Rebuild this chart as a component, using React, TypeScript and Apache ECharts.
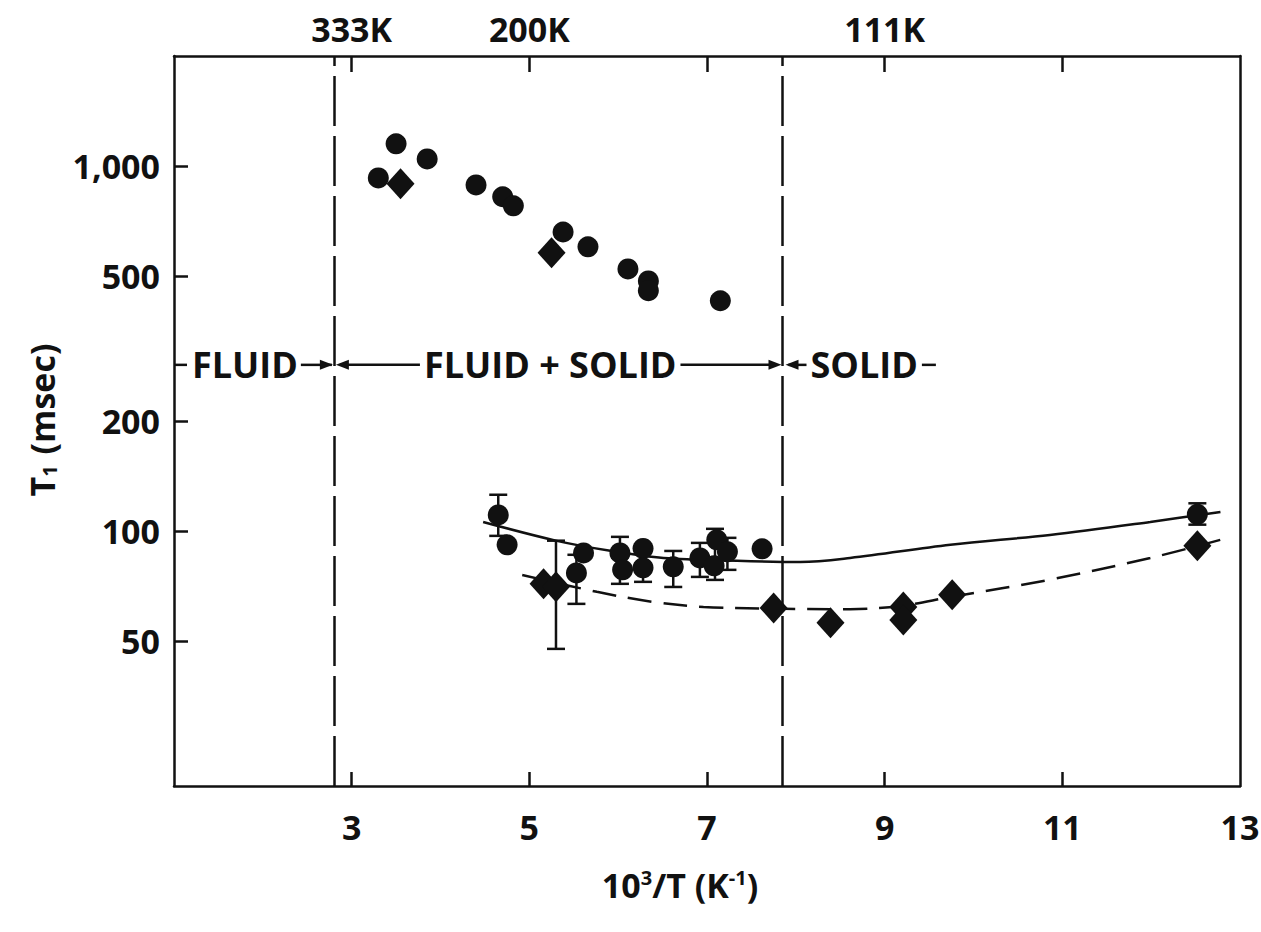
import React, { useEffect, useRef } from 'react';
import * as echarts from 'echarts';

// ---- data ----
const X_TICKS = [3, 5, 7, 9, 11];
const X_LABELS = [3, 5, 7, 9, 11, 13];
const TOP_TICKS = [3, 5, 7, 9, 11];
const TOP_LABEL_VALUES = [3, 5, 9];
const TOP_LABEL_TEXT = ['333K', '200K', '111K'];
const Y_TICKS = [50, 100, 200, 500, 1000];
const Y_LABEL_TEXT = ['50', '100', '200', '500', '1,000'];

const PHASE_BOUNDARIES = [2.8, 7.85];
const ANNOT_Y = 285;

const upperCircles = [
  [3.3, 927], [3.5, 1149], [3.85, 1045], [4.4, 887], [4.7, 823], [4.82, 777],
  [5.38, 659], [5.66, 600], [6.11, 522], [6.34, 484], [6.34, 455], [7.15, 427],
];
const upperDiamonds = [[3.55, 893], [5.25, 578]];

const lowerCircles = [
  [4.65, 110.6], [4.75, 91.6], [5.53, 76.7], [5.61, 87.0], [6.02, 87.0], [6.05, 78.2],
  [6.28, 89.5], [6.28, 79.2], [6.62, 79.7], [6.92, 84.3], [7.08, 80.2], [7.11, 94.5],
  [7.23, 87.6], [7.62, 89.3], [12.52, 111],
];
const lowerDiamonds = [
  [5.16, 71.6], [5.3, 70.3], [7.75, 61.5], [8.39, 56.0], [9.21, 61.9], [9.21, 57.0],
  [9.76, 66.8], [12.52, 91.0],
];

// [x, low, high]
const errorBars = [
  [4.65, 96.9, 125.6], [5.3, 47.5, 94], [5.53, 63.1, 86], [6.02, 71.6, 96.3],
  [6.28, 72.5, 90], [6.62, 70.2, 88.1], [6.92, 74.8, 92.7], [7.09, 73.4, 101.3],
  [7.23, 78.2, 95.7], [12.52, 104, 119],
];

const solidCurve = [
  [4.48, 105.8], [5.31, 93.9], [5.91, 88.2], [6.51, 84.3], [7.34, 82.8], [8.05, 82.2],
  [8.61, 84.3], [9.74, 91.6], [10.86, 97.5], [11.99, 105.8], [12.78, 112.7],
];
const dashedCurve = [
  [4.92, 75.7], [5.76, 68.1], [6.39, 63.9], [6.96, 61.9], [7.6, 61.3], [8.61, 61.0],
  [9.18, 62.3], [9.74, 65.9], [10.86, 73.5], [11.99, 84.3], [12.78, 94.5],
];

const INK = '#111';
const FONT = '"Open Sans", "DejaVu Sans", sans-serif';

export default function App() {
  const ref = useRef<HTMLDivElement>(null);

  useEffect(() => {
    const chart = echarts.init(ref.current!, null, { renderer: 'svg' });
    const axisLine = { show: true, lineStyle: { color: INK, width: 2.5 } };
    const tickStyle = { color: INK, width: 2.5 };
    const labelStyle = { color: INK, fontFamily: FONT, fontWeight: 'bold' as const, fontSize: 34 };
    const markStyle = { color: INK, opacity: 1 };

    const option: any = {
      animation: false,
      backgroundColor: '#fff',
      grid: { left: 174, right: 21, top: 56, bottom: 146, containLabel: false, outerBoundsMode: 'none' },
      xAxis: [
        {
          type: 'value', position: 'bottom', min: 1, max: 13,
          axisLine,
          axisTick: { show: true, inside: true, length: 14, lineStyle: tickStyle, customValues: X_TICKS },
          axisLabel: { ...labelStyle, margin: 24, customValues: X_LABELS, formatter: (v: number) => String(v) },
          splitLine: { show: false },
        },
        {
          type: 'value', position: 'top', min: 1, max: 13,
          axisLine,
          axisTick: { show: true, inside: true, length: 16, lineStyle: tickStyle, customValues: TOP_TICKS },
          axisLabel: {
            ...labelStyle, margin: 10, customValues: TOP_LABEL_VALUES,
            formatter: (v: number) => {
              const i = TOP_LABEL_VALUES.indexOf(v);
              return i >= 0 ? TOP_LABEL_TEXT[i] : '';
            },
          },
          splitLine: { show: false },
        },
      ],
      yAxis: [
        {
          type: 'log', logBase: 10, min: 20, max: 2000, position: 'left',
          axisLine,
          axisTick: { show: true, inside: true, length: 14, lineStyle: tickStyle, customValues: Y_TICKS },
          axisLabel: {
            ...labelStyle, margin: 14, customValues: Y_TICKS,
            formatter: (v: number) => {
              const i = Y_TICKS.findIndex((t) => Math.abs(t - v) < 1e-6 * t);
              return i >= 0 ? Y_LABEL_TEXT[i] : '';
            },
          },
          splitLine: { show: false },
        },
        {
          type: 'log', logBase: 10, min: 20, max: 2000, position: 'right',
          axisLine,
          axisTick: { show: false },
          axisLabel: { show: false },
          splitLine: { show: false },
        },
      ],
      series: [
        {
          type: 'line', name: 'solid fit', data: solidCurve, smooth: 0.35, symbol: 'none',
          lineStyle: { color: INK, width: 2.5 }, z: 2,
          markLine: {
            silent: true, symbol: ['none', 'none'], label: { show: false },
            lineStyle: { color: INK, width: 2.5, type: [50, 10], opacity: 1 },
            data: PHASE_BOUNDARIES.map((x) => ({ xAxis: x })),
          },
        },
        {
          type: 'line', name: 'dashed fit', data: dashedCurve, smooth: 0.35, symbol: 'none',
          lineStyle: { color: INK, width: 2.5, type: [24, 12] }, z: 2,
        },
        {
          type: 'custom', name: 'error bars', data: errorBars, z: 3,
          encode: { x: 0, y: [1, 2] },
          renderItem: (params: any, api: any) => {
            const x = api.value(0);
            const lo = api.coord([x, api.value(1)]);
            const hi = api.coord([x, api.value(2)]);
            const w = 9;
            const st = { stroke: INK, lineWidth: 2.5 };
            return {
              type: 'group',
              children: [
                { type: 'line', shape: { x1: hi[0], y1: hi[1], x2: lo[0], y2: lo[1] }, style: st },
                { type: 'line', shape: { x1: hi[0] - w, y1: hi[1], x2: hi[0] + w, y2: hi[1] }, style: st },
                { type: 'line', shape: { x1: lo[0] - w, y1: lo[1], x2: lo[0] + w, y2: lo[1] }, style: st },
              ],
            };
          },
        },
        {
          type: 'scatter', name: 'upper circles', data: upperCircles, symbol: 'circle', symbolSize: 21,
          itemStyle: markStyle, z: 4,
        },
        {
          type: 'scatter', name: 'upper diamonds', data: upperDiamonds, symbol: 'diamond', symbolSize: [28, 31],
          itemStyle: markStyle, z: 4,
        },
        {
          type: 'scatter', name: 'lower circles', data: lowerCircles, symbol: 'circle', symbolSize: 21,
          itemStyle: markStyle, z: 4,
        },
        {
          type: 'scatter', name: 'lower diamonds', data: lowerDiamonds, symbol: 'diamond', symbolSize: [28, 31],
          itemStyle: markStyle, z: 4,
        },
      ],
    };
    chart.setOption(option);

    // ---- annotations positioned through the axes ----
    const toPx = (x: number, y: number) =>
      chart.convertToPixel({ xAxisIndex: 0, yAxisIndex: 0 }, [x, y]) as number[];
    const gl = toPx(1, ANNOT_Y)[0];
    const L1 = toPx(PHASE_BOUNDARIES[0], ANNOT_Y)[0];
    const L2 = toPx(PHASE_BOUNDARIES[1], ANNOT_Y)[0];
    const yA = toPx(1, ANNOT_Y)[1];
    const annFont = 36;
    const ctx = document.createElement('canvas').getContext('2d')!;
    ctx.font = `bold ${annFont}px "Open Sans"`;
    const tw = (s: string) => ctx.measureText(s).width;
    const st = { stroke: INK, lineWidth: 2.5 };
    const txt = (s: string, x: number) => ({
      type: 'text', x, y: yA,
      style: { text: s, x: 0, y: 0, fill: INK, font: `bold ${annFont}px ${FONT}`, align: 'left', verticalAlign: 'middle' },
    });
    const hline = (x1: number, x2: number) => ({ type: 'line', shape: { x1, y1: yA, x2, y2: yA }, style: st });
    const head = (tip: number, dir: number) => ({
      type: 'polygon',
      shape: { points: [[tip, yA], [tip - dir * 13, yA - 5], [tip - dir * 13, yA + 5]] },
      style: { fill: INK },
    });
    const g: any[] = [];
    const fluidX = gl + 18;
    g.push(hline(gl, gl + 13));
    g.push(txt('FLUID', fluidX));
    g.push(hline(fluidX + tw('FLUID') + 3, L1 - 2), head(L1 - 1, 1));
    const mid = 'FLUID + SOLID';
    const midW = tw(mid);
    const midX = (L1 + L2) / 2 - midW / 2 - 8;
    g.push(head(L1 + 2, -1), hline(L1 + 6, midX - 4));
    g.push(txt(mid, midX));
    g.push(hline(midX + midW + 4, L2 - 6), head(L2 - 1, 1));
    g.push(head(L2 + 3, -1), hline(L2 + 6, L2 + 24));
    const solX = L2 + 28;
    g.push(txt('SOLID', solX));
    g.push(hline(solX + tw('SOLID') + 4, solX + tw('SOLID') + 18));

    // axis titles
    g.push({
      type: 'text', x: 42, y: 420, rotation: Math.PI / 2,
      style: {
        text: 'T{s|1} (msec)', x: 0, y: 0, fill: INK, align: 'center', verticalAlign: 'middle',
        font: `bold 34px ${FONT}`,
        rich: { s: { fontSize: 20, fontWeight: 'bold', fontFamily: FONT, fill: INK, padding: [14, 2, 0, 0] } },
      },
    });
    g.push({
      type: 'text', x: 680, y: 885,
      style: {
        text: '10{p|3}/T (K{p|-1})', x: 0, y: 0, fill: INK, align: 'center', verticalAlign: 'middle',
        font: `bold 34px ${FONT}`,
        rich: { p: { fontSize: 20, fontWeight: 'bold', fontFamily: FONT, fill: INK, padding: [0, 0, 16, 0] } },
      },
    });

    chart.setOption({ graphic: g });
    return () => chart.dispose();
  }, []);

  return <div ref={ref} style={{ position: 'fixed', left: 0, top: 0, width: 1261, height: 932 }} />;
}
